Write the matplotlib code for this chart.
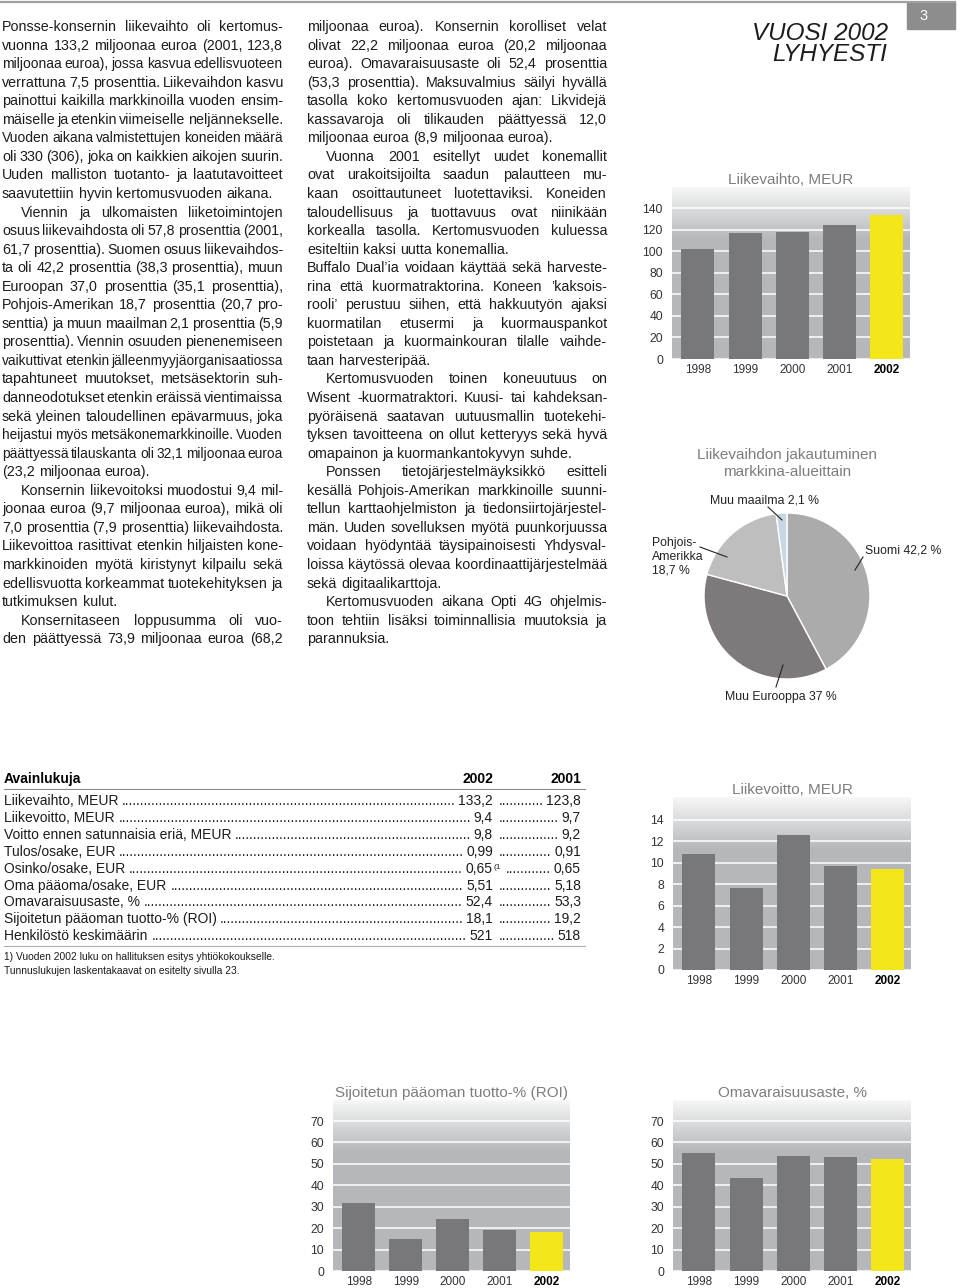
import numpy as np
import matplotlib.pyplot as plt
from matplotlib.patches import Rectangle

plt.rcParams['font.family'] = ['Liberation Sans', 'DejaVu Sans']

# ---- data ----
years = ['1998', '1999', '2000', '2001', '2002']
liikevaihto = [102.3, 117.0, 118.2, 123.8, 133.2]
liikevoitto = [10.8, 7.6, 12.6, 9.7, 9.4]
roi = [31.9, 14.8, 24.1, 19.2, 18.1]
omavaraisuus = [55.0, 43.3, 53.7, 53.3, 52.4]

market_labels = ['Suomi 42,2 %', 'Muu Eurooppa 37 %', 'Pohjois-\nAmerikka\n18,7 %', 'Muu maailma 2,1 %']
market_share = [42.2, 37.0, 18.7, 2.1]
market_colors = ['#ababab', '#7e797a', '#bebebe', '#c8d6e2']

key_labels = ['Liikevaihto, MEUR', 'Liikevoitto, MEUR', 'Voitto ennen satunnaisia eriä, MEUR',
              'Tulos/osake, EUR', 'Osinko/osake, EUR', 'Oma pääoma/osake, EUR',
              'Omavaraisuusaste, %', 'Sijoitetun pääoman tuotto-% (ROI)', 'Henkilöstö keskimäärin']
key_2002 = ['133,2', '9,4', '9,8', '0,99', '0,65', '5,51', '52,4', '18,1', '521']
key_2001 = ['123,8', '9,7', '9,2', '0,91', '0,65', '5,18', '53,3', '19,2', '518']
footnotes = ['1) Vuoden 2002 luku on hallituksen esitys yhtiökokoukselle.',
             'Tunnuslukujen laskentakaavat on esitelty sivulla 23.']

# '>' = indented first line, '#' = last line of paragraph (not justified)
col1 = """Ponsse-konsernin liikevaihto oli kertomus-
vuonna 133,2 miljoonaa euroa (2001, 123,8
miljoonaa euroa), jossa kasvua edellisvuoteen
verrattuna 7,5 prosenttia. Liikevaihdon kasvu
painottui kaikilla markkinoilla vuoden ensim-
mäiselle ja etenkin viimeiselle neljännekselle.
Vuoden aikana valmistettujen koneiden määrä
oli 330 (306), joka on kaikkien aikojen suurin.
Uuden malliston tuotanto- ja laatutavoitteet
saavutettiin hyvin kertomusvuoden aikana.#
>Viennin ja ulkomaisten liiketoimintojen
osuus liikevaihdosta oli 57,8 prosenttia (2001,
61,7 prosenttia). Suomen osuus liikevaihdos-
ta oli 42,2 prosenttia (38,3 prosenttia), muun
Euroopan 37,0 prosenttia (35,1 prosenttia),
Pohjois-Amerikan 18,7 prosenttia (20,7 pro-
senttia) ja muun maailman 2,1 prosenttia (5,9
prosenttia). Viennin osuuden pienenemiseen
vaikuttivat etenkin jälleenmyyjäorganisaatiossa
tapahtuneet muutokset, metsäsektorin suh-
danneodotukset etenkin eräissä vientimaissa
sekä yleinen taloudellinen epävarmuus, joka
heijastui myös metsäkonemarkkinoille. Vuoden
päättyessä tilauskanta oli 32,1 miljoonaa euroa
(23,2 miljoonaa euroa).#
>Konsernin liikevoitoksi muodostui 9,4 mil-
joonaa euroa (9,7 miljoonaa euroa), mikä oli
7,0 prosenttia (7,9 prosenttia) liikevaihdosta.
Liikevoittoa rasittivat etenkin hiljaisten kone-
markkinoiden myötä kiristynyt kilpailu sekä
edellisvuotta korkeammat tuotekehityksen ja
tutkimuksen kulut.#
>Konsernitaseen loppusumma oli vuo-
den päättyessä 73,9 miljoonaa euroa (68,2""".split('\n')

col2 = """miljoonaa euroa). Konsernin korolliset velat
olivat 22,2 miljoonaa euroa (20,2 miljoonaa
euroa). Omavaraisuusaste oli 52,4 prosenttia
(53,3 prosenttia). Maksuvalmius säilyi hyvällä
tasolla koko kertomusvuoden ajan: Likvidejä
kassavaroja oli tilikauden päättyessä 12,0
miljoonaa euroa (8,9 miljoonaa euroa).#
>Vuonna 2001 esitellyt uudet konemallit
ovat urakoitsijoilta saadun palautteen mu-
kaan osoittautuneet luotettaviksi. Koneiden
taloudellisuus ja tuottavuus ovat niinikään
korkealla tasolla. Kertomusvuoden kuluessa
esiteltiin kaksi uutta konemallia.#
Buffalo Dual’ia voidaan käyttää sekä harveste-
rina että kuormatraktorina. Koneen ’kaksois-
rooli’ perustuu siihen, että hakkuutyön ajaksi
kuormatilan etusermi ja kuormauspankot
poistetaan ja kuormainkouran tilalle vaihde-
taan harvesteripää.#
>Kertomusvuoden toinen koneuutuus on
Wisent -kuormatraktori. Kuusi- tai kahdeksan-
pyöräisenä saatavan uutuusmallin tuotekehi-
tyksen tavoitteena on ollut ketteryys sekä hyvä
omapainon ja kuormankantokyvyn suhde.#
>Ponssen tietojärjestelmäyksikkö esitteli
kesällä Pohjois-Amerikan markkinoille suunni-
tellun karttaohjelmiston ja tiedonsiirtojärjestel-
män. Uuden sovelluksen myötä puunkorjuussa
voidaan hyödyntää täysipainoisesti Yhdysval-
loissa käytössä olevaa koordinaattijärjestelmää
sekä digitaalikarttoja.#
>Kertomusvuoden aikana Opti 4G ohjelmis-
toon tehtiin lisäksi toiminnallisia muutoksia ja
parannuksia.#""".split('\n')

TXT = '#1c1c1c'
GREY_BAR = '#78787b'
YELLOW = '#f4e619'
TITLE_C = '#7d7d7d'

W, H = 960, 1288
fig = plt.figure(figsize=(W / 100, H / 100), dpi=100)
page = fig.add_axes([0, 0, 1, 1])
page.set_xlim(0, W)
page.set_ylim(H, 0)
page.axis('off')
page.patch.set_visible(False)
page.set_zorder(10)
renderer = fig.canvas.get_renderer()


def text_w(s, size, weight='normal'):
    t = page.text(0, 0, s, fontsize=size, fontweight=weight)
    w = t.get_window_extent(renderer).width
    t.remove()
    return w


def px_axes(x0, y0, x1, y1):
    return fig.add_axes([x0 / W, 1 - y1 / H, (x1 - x0) / W, (y1 - y0) / H])


# ---- body text, justified by hand ----
BODY_Y0, BODY_DY, INDENT = 31.0, 18.55, 19
BODY_SIZE, MIN_GAP = 10.3, 2.6


def draw_column(lines, x0, x1, base):
    for i, raw in enumerate(lines):
        words = raw.strip('>#').split()
        x = x0 + (INDENT if raw.startswith('>') else 0)
        size = base
        ws = [text_w(w, size) for w in words]
        just = not raw.endswith('#') and len(words) > 1
        if just:
            need = sum(ws) + MIN_GAP * (len(words) - 1)
            if need > x1 - x:
                # squeeze an over-long line a little
                size = base * (x1 - x - MIN_GAP * (len(words) - 1)) / sum(ws)
                ws = [text_w(w, size) for w in words]
            gap = (x1 - x - sum(ws)) / (len(words) - 1)
        else:
            gap = text_w('n n', size) - text_w('nn', size)
        y = BODY_Y0 + i * BODY_DY
        for w, wd in zip(words, ws):
            page.text(x, y, w, fontsize=size, va='baseline', color=TXT)
            x += wd + gap


draw_column(col1, 2, 283, BODY_SIZE)
draw_column(col2, 307, 607, BODY_SIZE)

# ---- page header ----
page.plot([0, 955], [2, 2], color='#a0a0a0', lw=1.6)
page.add_patch(Rectangle((907, 2), 48, 27, color='#8d8d8d'))
page.text(924, 16, '3', color='white', fontsize=10.5, ha='center', va='center')
page.text(888, 40, 'VUOSI 2002', fontsize=17.5, style='italic', ha='right', va='baseline', color=TXT)
page.text(887, 61, 'LYHYESTI', fontsize=17.5, style='italic', ha='right', va='baseline', color=TXT)


# ---- bar charts ----
def grad_bg(ax):
    f = np.linspace(0, 1, 256)[:, None]
    t = np.clip((f - 0.70) / 0.30, 0, 1)
    lo = np.array([0.71, 0.72, 0.73])
    hi = np.array([0.97, 0.97, 0.97])
    img = lo + (hi - lo) * t[..., None]
    ax.imshow(img, extent=(0, 1, 0, 1), transform=ax.transAxes, origin='lower',
              aspect='auto', zorder=0, interpolation='bilinear')


def bar_chart(box, values, ytop, ticks, title):
    ax = px_axes(*box)
    grad_bg(ax)
    colors = [GREY_BAR] * (len(values) - 1) + [YELLOW]
    ax.bar(range(len(values)), values, width=0.7, color=colors, zorder=2)
    ax.set_xlim(-0.55, 4.5)
    ax.set_ylim(0, ytop)
    ax.set_yticks(ticks)
    ax.set_xticks(range(len(years)), years)
    ax.set_axisbelow(True)
    ax.yaxis.grid(True, color='white', lw=1.1)
    for s in ax.spines.values():
        s.set_visible(False)
    ax.tick_params(axis='y', length=0, labelsize=8.7, labelcolor='#333333', pad=6.5)
    ax.tick_params(axis='x', length=0, labelsize=8.5, labelcolor='#333333', pad=3.5)
    lab = ax.get_xticklabels()[-1]
    lab.set_fontweight('bold')
    lab.set_color('black')
    ax.set_title(title, fontsize=11, color=TITLE_C, pad=2)
    return ax


bar_chart((672, 187, 910, 359), liikevaihto, 159.5, range(0, 141, 20), 'Liikevaihto, MEUR')
bar_chart((673, 797, 911, 970), liikevoitto, 16.1, range(0, 15, 2), 'Liikevoitto, MEUR')
bar_chart((333, 1100, 570, 1271), roi, 79.8, range(0, 71, 10), 'Sijoitetun pääoman tuotto-% (ROI)')
bar_chart((673, 1100, 911, 1271), omavaraisuus, 79.8, range(0, 71, 10), 'Omavaraisuusaste, %')

# ---- pie ----
axp = px_axes(704, 513, 870, 679)
axp.pie(market_share, colors=market_colors, startangle=90, counterclock=False,
        wedgeprops=dict(edgecolor='white', linewidth=1.0))
axp.set_xlim(-1, 1)
axp.set_ylim(-1, 1)
axp.set_aspect('equal')

page.text(787, 455, 'Liikevaihdon jakautuminen', fontsize=11, color=TITLE_C, ha='center', va='center')
page.text(787, 472, 'markkina-alueittain', fontsize=11, color=TITLE_C, ha='center', va='center')

label_pos = [(865, 550), (725, 697), (652, 557), (710, 500)]
leader = [((863, 557), (855, 570)), ((776, 687), (783, 665)),
          ((700, 547), (727, 557)), ((768, 507), (782, 520))]
for lab, (lx, ly), (p, q) in zip(market_labels, label_pos, leader):
    page.text(lx, ly, lab, fontsize=8.8, color='#222222', ha='left', va='center', linespacing=1.2)
    page.plot([p[0], q[0]], [p[1], q[1]], color='#222222', lw=0.8)

# ---- key figures table ----
TX, R1, R2, TS = 4, 493, 581, 10
page.text(TX, 783, 'Avainlukuja', fontsize=TS, fontweight='bold', va='baseline', color='black')
page.text(R1, 783, '2002', fontsize=TS, fontweight='bold', va='baseline', ha='right', color='black')
page.text(R2, 783, '2001', fontsize=TS, fontweight='bold', va='baseline', ha='right', color='black')
page.plot([TX, 585], [788.5, 788.5], color='#8c8c8c', lw=0.8)

dot_w = text_w('.' * 20, TS) / 20
for i, (lab, a, b) in enumerate(zip(key_labels, key_2002, key_2001)):
    y = 805 + i * 16.9
    page.text(TX, y, lab, fontsize=TS, va='baseline', color=TXT)
    wa, wb = text_w(a, TS), text_w(b, TS)
    start, end = TX + text_w(lab, TS) + 1, R1 - wa - 3
    page.text(end, y, '.' * int((end - start) / dot_w), fontsize=TS, va='baseline', ha='right', color=TXT)
    page.text(R1, y, a, fontsize=TS, va='baseline', ha='right', color=TXT)
    extra = 0
    if lab.startswith('Osinko'):
        page.text(R1 + 1, y - 4, '(1', fontsize=6, va='baseline', color=TXT)
        extra = 8
    start, end = R1 + 3 + extra, R2 - wb - 3
    page.text(end, y, '.' * int((end - start) / dot_w), fontsize=TS, va='baseline', ha='right', color=TXT)
    page.text(R2, y, b, fontsize=TS, va='baseline', ha='right', color=TXT)

page.plot([TX, 585], [946, 946], color='#b0b0b0', lw=0.8)
for j, note in enumerate(footnotes):
    page.text(TX, 960 + j * 14, note, fontsize=7.4, va='baseline', color=TXT)

fig.savefig('out.png', dpi=100)
